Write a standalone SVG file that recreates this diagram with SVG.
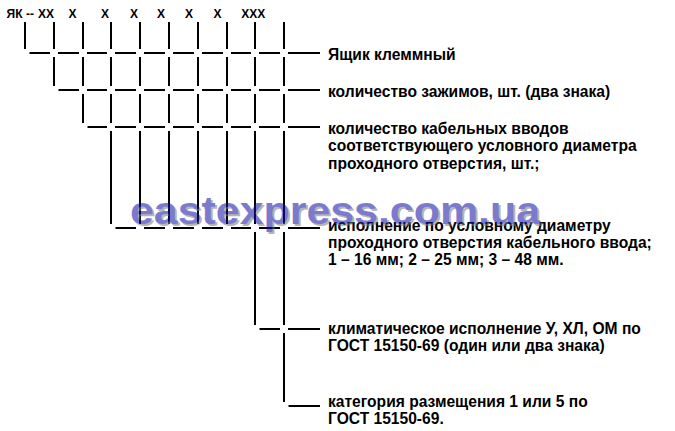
<svg xmlns="http://www.w3.org/2000/svg" width="675" height="431" viewBox="0 0 675 431">
<style>
.ln{fill:none;stroke:#000;stroke-width:2}
.lbl{font-family:"Liberation Sans",Arial,sans-serif;font-weight:bold;font-size:15.6px;fill:#000}
.hdr{font-family:"Liberation Sans",Arial,sans-serif;font-weight:bold;font-size:12px;fill:#000;text-anchor:middle}
.wm{font-family:"Liberation Sans",Arial,sans-serif;font-weight:bold;font-size:39px}
</style>
<rect width="675" height="431" fill="#fff"/>
<g id="header">
<text class="hdr" x="14.5" y="18">ЯК</text>
<text class="hdr" x="30" y="18">--</text>
<text class="hdr" x="46" y="18">XX</text>
<text class="hdr" x="72.5" y="18">X</text>
<text class="hdr" x="105" y="18">X</text>
<text class="hdr" x="134" y="18">X</text>
<text class="hdr" x="161" y="18">X</text>
<text class="hdr" x="189" y="18">X</text>
<text class="hdr" x="217.5" y="18">X</text>
<text class="hdr" x="253.3" y="18">XXX</text>
</g>
<g id="connectors" class="ln">
<path d="M25 22V49 M54 22V49M54 57V86 M83 22V49M83 57V86M83 94V123"/>
<path d="M111 22V49M111 57V86M111 94V123M111 131V224 M140 22V49M140 57V86M140 94V123M140 131V224 M169 22V49M169 57V86M169 94V123M169 131V224 M198 22V49M198 57V86M198 94V123M198 131V224 M227 22V49M227 57V86M227 94V123M227 131V224"/>
<path d="M255 22V49M255 57V86M255 94V123M255 131V224M255 232V325 M284 22V49M284 57V86M284 94V123M284 131V224M284 232V325M284 333V402"/>
<path d="M29.5 53H50M58 53H79M87 53H107M115 53H136M144 53H165M173 53H194M202 53H223M231 53H251M259 53H280M288 53H320"/>
<path d="M58.5 90H79M87 90H107M115 90H136M144 90H165M173 90H194M202 90H223M231 90H251M259 90H280M288 90H320"/>
<path d="M87.5 127H107M115 127H136M144 127H165M173 127H194M202 127H223M231 127H251M259 127H280M288 127H320"/>
<path d="M115.5 228H136M144 228H165M173 228H194M202 228H223M231 228H251M259 228H280M288 228H320"/>
<path d="M259.5 329H280M288 329H320"/>
<path d="M288.5 406H320"/>
</g>
<g id="n1"><text class="lbl" x="328" y="59.5">Ящик клеммный</text></g>
<g id="n2"><text class="lbl" x="328" y="97">количество зажимов, шт. (два знака)</text></g>
<g id="n3"><text class="lbl" x="328" y="133.5">количество кабельных вводов</text><text class="lbl" x="328" y="151">соответствующего условного диаметра</text><text class="lbl" x="328" y="168.5">проходного отверстия, шт.;</text></g>
<g id="n4"><text class="lbl" x="328" y="231">исполнение по условному диаметру</text><text class="lbl" x="328" y="248">проходного отверстия кабельного ввода;</text><text class="lbl" x="328" y="265">1 – 16 мм; 2 – 25 мм; 3 – 48 мм.</text></g>
<g id="n5"><text class="lbl" x="328" y="333.5">климатическое исполнение У, ХЛ, ОМ по</text><text class="lbl" x="328" y="350.5">ГОСТ 15150-69 (один или два знака)</text></g>
<g id="n6"><text class="lbl" x="328" y="407">категория размещения 1 или 5 по</text><text class="lbl" x="328" y="424">ГОСТ 15150-69.</text></g>
<g id="watermark" opacity="0.55">
<text class="wm" x="132" y="226" fill="#7a7a7a" textLength="410" lengthAdjust="spacingAndGlyphs">eastexpress.com.ua</text>
<text class="wm" x="130" y="224" fill="#0f0fa8" textLength="410" lengthAdjust="spacingAndGlyphs">eastexpress.com.ua</text>
</g>
</svg>
